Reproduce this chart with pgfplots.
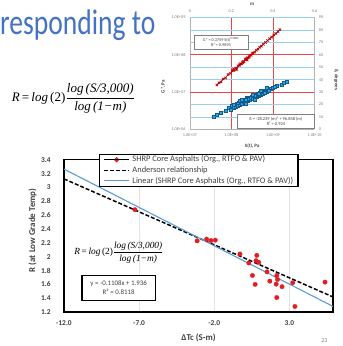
\documentclass[border=0pt]{standalone}
\usepackage{pgfplots}
\pgfplotsset{compat=1.18}
\usepackage{fontspec}
\usepackage{graphicx}
\setmainfont{Carlito}
\newfontfamily\tnr{Liberation Serif}
\definecolor{titleblue}{RGB}{68,114,196}
\definecolor{dotred}{RGB}{226,30,36}
\definecolor{linblue}{RGB}{91,155,213}
\definecolor{tickgray}{RGB}{64,64,64}
\definecolor{gridred}{RGB}{232,70,70}
\definecolor{gridblue}{RGB}{150,210,240}
\definecolor{sqblue}{RGB}{40,170,225}
\definecolor{sqedge}{RGB}{20,90,140}
\definecolor{xred}{RGB}{192,0,0}
\newcommand{\fs}[2]{\fontsize{#1}{#2}\selectfont}
\newcommand{\Req}{{\tnr\itshape R}{\tnr\,=\,}{\tnr\itshape log}{\tnr\,(2)}$\displaystyle\frac{\hbox{\tnr\itshape log\,(S/3,000)}}{\hbox{\tnr\itshape log\,(1−m)}}$}
\pgfplotsset{inset/.style={scale only axis, width=126bp, height=113.3bp,
  at={(192bp,217.7bp)}, anchor=south west, major tick length=0}}
\begin{document}
\begin{tikzpicture}[x=1bp,y=1bp]
\path[fill=white] (0,0) rectangle (346,346);
% title fragment
\node[anchor=base west, inner sep=0] at (0,313.7) {\resizebox{157bp}{25bp}{\color{titleblue}responding to}};
% equation top-left
\node[anchor=west, inner sep=0] at (11.7,249.3) {\resizebox{125bp}{!}{\Req}};

% ---------- inset A: left/bottom axis (S(t), G*) in log10 units: red grid and labels
\begin{axis}[inset,
  xmin=7, xmax=10, ymin=6, ymax=9,
  axis x line*=bottom, axis y line*=left,
  xtick={7,8,9,10}, xticklabels={1.0E+07,1.0E+08,1.0E+09,1.0E+10},
  ytick={6,7,8,9}, yticklabels={1.0E+06,1.0E+07,1.0E+08,1.0E+09},
  extra x ticks={8,9}, extra x tick labels={},
  extra y ticks={7,8}, extra y tick labels={},
  extra tick style={grid=major, major grid style={gridred, line width=0.6bp}},
  axis line style={gray!60, line width=0.4bp},
  tick label style={font=\fs{4.3bp}{5bp}, text=gray},
  xticklabel style={yshift=-1bp},
  yticklabel style={xshift=-1bp},
  xlabel={S(t), Pa}, ylabel={G*, Pa},
  xlabel style={at={(axis description cs:0.5,-0.147)}, anchor=center, font=\bfseries\fs{5bp}{6bp}, text=tickgray},
  ylabel style={at={(axis description cs:-0.214,0.382)}, anchor=center, font=\bfseries\fs{5bp}{6bp}, text=tickgray},
]
\addplot[draw=none, forget plot] coordinates {(7,6)(10,9)};
\end{axis}

% ---------- inset B: right/top axis (m, delta): blue grid and blue series
\begin{axis}[inset,
  xmin=0, xmax=0.6, ymin=0, ymax=90,
  axis x line*=top, axis y line*=right,
  xtick={0,0.2,0.4,0.6}, xticklabels={0,0.2,0.4,0.6},
  ytick={0,10,20,30,40,50,60,70,80,90},
  yticklabels={0,10,20,30,40,50,60,70,80,90},
  extra y ticks={10,20,40,50,70,80,90}, extra y tick labels={},
  extra y tick style={grid=major, major grid style={gridblue, line width=0.6bp}},
  axis line style={gray!60, line width=0.4bp},
  tick label style={font=\fs{4.3bp}{5bp}, text=gray},
  xticklabel style={yshift=1bp},
  yticklabel style={xshift=1bp},
  xlabel={m}, ylabel={δ, degrees},
  xlabel style={at={(axis description cs:0.5,1.115)}, anchor=center, font=\bfseries\fs{5bp}{6bp}, text=tickgray},
  ylabel style={at={(axis description cs:1.175,0.444)}, anchor=center, rotate=180, font=\bfseries\fs{5bp}{6bp}, text=tickgray},
]
\addplot[only marks, mark=square*, mark size=1.5bp, mark options={fill=sqblue, draw=sqedge, line width=0.3bp}] coordinates {
(0.114,9.9)(0.13,11.8)(0.15,13.1)(0.17,14.9)(0.185,17.3)(0.195,15.8)(0.20,18.9)(0.21,17.6)(0.215,20.3)(0.22,18.5)(0.225,21.0)(0.23,19.4)(0.235,21.8)(0.24,20.0)(0.245,22.5)(0.25,21.0)(0.255,23.6)(0.26,22.0)(0.265,24.0)(0.27,22.6)(0.275,25.2)(0.28,23.5)(0.285,25.9)(0.29,24.3)(0.295,26.5)(0.30,25.0)(0.305,27.3)(0.31,25.9)(0.315,28.0)(0.32,26.6)(0.325,28.7)(0.33,27.4)(0.335,29.5)(0.34,28.2)(0.345,30.2)(0.35,29.0)(0.36,31.0)(0.37,30.6)(0.38,32.4)(0.39,32.6)(0.40,33.6)(0.42,35.2)(0.44,36.2)(0.467,38.3)(0.23,21.1)(0.26,23.4)(0.29,25.6)(0.32,27.6)(0.35,30.4)(0.28,24.6)(0.24,22.9)(0.31,27.2)(0.27,24.3)(0.33,28.9)(0.36,29.6)(0.38,31.2)(0.41,34.0)(0.45,37.6)(0.21,19.8)(0.25,23.8)(0.30,28.0)(0.34,31.3)(0.27,20.8)(0.31,24.1)(0.37,33.2)
};
\addplot[black, line width=0.4bp] coordinates {(0.114,9.9)(0.2,17.4)(0.3,25.7)(0.4,33.4)(0.467,38.3)};
\end{axis}

% ---------- inset C: red series on S(t), G* axes
\begin{axis}[inset, hide axis,
  xmin=7, xmax=10, ymin=6, ymax=9]
\addplot[only marks, mark=x, mark size=1.7bp, xred, line width=0.7bp] coordinates {
(7.65,7.19)(7.70,7.25)(7.75,7.27)(7.80,7.35)(7.86,7.38)(7.92,7.47)(7.98,7.50)(8.02,7.57)(8.06,7.58)(8.10,7.64)(8.13,7.64)(8.16,7.70)(8.19,7.71)(8.22,7.76)(8.25,7.76)(8.28,7.82)(8.30,7.81)(8.33,7.87)(8.36,7.87)(8.39,7.92)(8.42,7.93)(8.45,7.98)(8.48,7.99)(8.52,8.05)(8.56,8.07)(8.60,8.12)(8.64,8.15)(8.68,8.20)(8.72,8.23)(8.77,8.28)(8.82,8.33)(8.87,8.38)(8.92,8.43)(8.97,8.47)(9.02,8.53)(9.07,8.57)(9.12,8.62)(9.17,8.67)(8.05,7.62)(8.12,7.60)(8.20,7.74)(8.27,7.79)(8.35,7.90)(8.43,7.95)(8.50,8.03)(8.38,7.86)
};
\addplot[black, line width=0.4bp] coordinates {(7.65,7.19)(9.17,8.67)};
\end{axis}
% inset text boxes
\node[draw=gray, fill=white, line width=0.4bp, minimum width=55bp, minimum height=14bp, inner sep=0.5bp, align=center, font=\fs{4.3bp}{5.2bp}, text=tickgray] at (223.5,306.3) {G* = 0.3759 S(t)\textsuperscript{0.9882}\\R² = 0.9893};
\node[draw=gray, fill=white, line width=0.4bp, minimum width=78bp, minimum height=14bp, inner sep=0.5bp, align=center, font=\fs{4.5bp}{5.4bp}, text=tickgray] at (279,226.1) {δ = -28.239 (m)² + 96.858 (m)\\R² = 0.924};

% ---------- main chart
\begin{axis}[
  scale only axis, width=272bp, height=154bp,
  at={(64.7bp,33bp)}, anchor=south west,
  xmin=-12, xmax=5.9, ymin=1.2, ymax=3.4,
  xtick={-12,-7,-2,3}, xticklabels={-12.0,-7.0,-2.0,3.0},
  ytick={1.2,1.4,1.6,1.8,2,2.2,2.4,2.6,2.8,3,3.2,3.4},
  yticklabels={1.2,1.4,1.6,1.8,2,2.2,2.4,2.6,2.8,3,3.2,3.4},
  major tick length=0,
  xmajorgrids, major grid style={gray!22, line width=0.5bp},
  axis line style={black, line width=1.4bp},
  tick label style={font=\bfseries\fs{7.5bp}{9bp}, text=tickgray},
  xticklabel style={yshift=-5bp},
  yticklabel style={xshift=-10bp},
  xlabel={ΔTc (S-m)}, ylabel={R (at Low Grade Temp)},
  xlabel style={at={(axis description cs:0.5,-0.169)}, anchor=center, font=\bfseries\fs{9bp}{10bp}, text=tickgray},
  ylabel style={at={(axis description cs:-0.1165,0.536)}, anchor=center, font=\bfseries\fs{9bp}{10bp}, text=tickgray},
  legend cell align=left,
  legend style={at={(0.13,1.039)}, anchor=north west, draw=black, line width=1.2bp, fill=white,
    font=\fs{8.5bp}{10bp}, text=tickgray, inner xsep=4bp, inner ysep=0.8bp, row sep=1.5bp, column sep=2bp,
    nodes={inner sep=0.8bp, text height=6bp, text depth=1.6bp}},
  legend image code/.code={\draw[#1] (6bp,0bp) -- (31bp,0bp);},
]
\addplot[only marks, mark=*, mark size=2.3bp, mark options={draw=dotred, fill=dotred, line width=0.2bp},
  legend image code/.code={\fill[dotred] (18.5bp,0bp) circle (1.9bp); \path (6bp,0bp) -- (31bp,0bp);}] coordinates {
(-7.28,2.68)(-3.14,2.229)(-2.51,2.254)(-2.22,2.233)(-1.93,2.239)(-0.29,2.039)(0.83,2.019)(0.30,1.91)(0.78,1.943)(0.96,1.919)(0.54,1.729)(0.72,1.60)(1.51,1.781)(1.70,1.647)(2.16,1.729)(2.12,1.604)(2.21,1.671)(2.51,1.567)(2.16,1.41)(3.22,1.624)(3.37,1.281)(5.37,1.633)
};
\addlegendentry{SHRP Core Asphalts (Org., RTFO \& PAV)}
\addplot[black, line width=1.5bp, dash pattern=on 4bp off 2bp] coordinates {(-12,3.124)(5.9,1.419)};
\addlegendentry{Anderson relationship}
\addplot[linblue, line width=1.1bp] coordinates {(-12,3.2656)(5.9,1.2823)};
\addlegendentry{Linear (SHRP Core Asphalts (Org., RTFO \& PAV))}
\end{axis}
% equation and fit box inside main chart
\node[anchor=west, inner sep=0] at (75,93) {\resizebox{90bp}{!}{\Req}};
\node[draw=black, fill=white, line width=1.4bp, minimum width=74bp, minimum height=25bp, inner sep=0.5bp, align=center, font=\fs{7bp}{9.5bp}, text=tickgray] at (120,57.5) {y = -0.1108x + 1.936\\R² = 0.8118};
% slide number
\node[font=\fs{6bp}{7bp}, text=gray] at (328,4) {23};
\path[use as bounding box] (0,0) rectangle (346,346);
\end{tikzpicture}
\end{document}
